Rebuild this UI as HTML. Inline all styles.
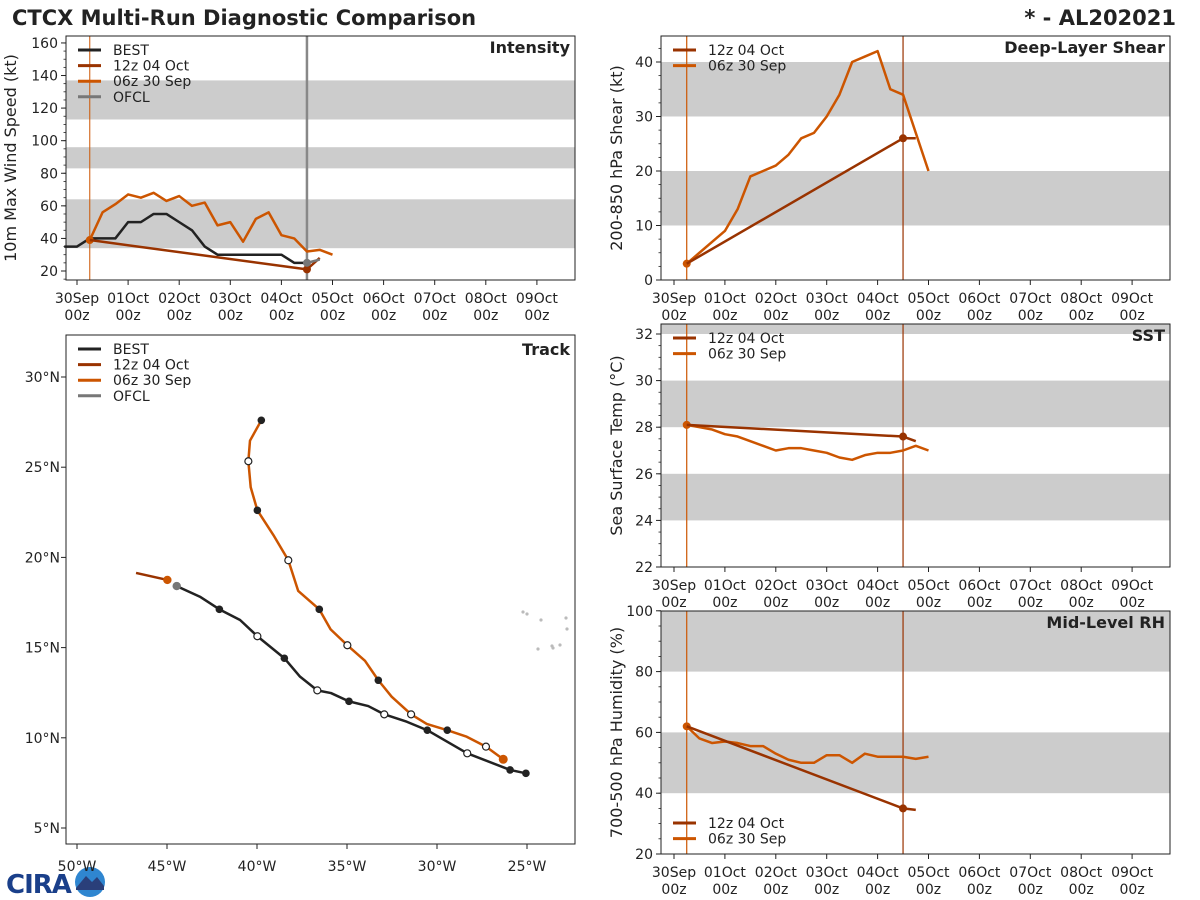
<!DOCTYPE html>
<html><head><meta charset="utf-8">
<style>
html,body{margin:0;padding:0;background:#fff;}
svg{display:block;font-family:"DejaVu Sans","Liberation Sans",sans-serif;}
</style></head>
<body>
<svg id="chart" width="1200" height="900" viewBox="0 0 1200 900">
<text x="12" y="25" font-size="21" font-weight="bold" fill="#222">CTCX Multi-Run Diagnostic Comparison</text>
<text x="1176" y="25" font-size="21" font-weight="bold" fill="#222" text-anchor="end">* - AL202021</text>
<g>
<text x="6" y="893" font-size="26" font-weight="bold" fill="#1a3f8a" letter-spacing="-1">CIRA</text>
<circle cx="90" cy="882" r="15" fill="#2f86d0"/>
<path d="M76 888 L86 876 L92 882 L97 877 L104 886 L104 890 L76 890Z" fill="#2a3f7a"/>
</g>
</svg>
<script>
// ---------------- data ----------------
const dayLabels = ["30Sep","01Oct","02Oct","03Oct","04Oct","05Oct","06Oct","07Oct","08Oct","09Oct"];
const intBestStart = -6;
const intBest = [35,35,40,40,40,50,50,55,55,50,45,35,30,30,30,30,30,30,25,25];
const int06Start = 6;
const int06 = [39,56,61,67,65,68,63,66,60,62,48,50,38,52,56,42,40,32,33,30];
const int12Hours = [6,108,114];
const int12 = [39,21,28];
const ofclHours = [108,114];
const ofcl = [25,27];
const intTicks = [20,40,60,80,100,120,140,160];
const shear06 = [3,5,7,9,13,19,20,21,23,26,27,30,34,40,41,42,35,34,27,20];
const shear12Hours = [6,108,114];
const shear12 = [3,26,26];
const shearTicks = [0,10,20,30,40];
const sst06 = [28.1,28.0,27.9,27.7,27.6,27.4,27.2,27.0,27.1,27.1,27.0,26.9,26.7,26.6,26.8,26.9,26.9,27.0,27.2,27.0];
const sst12Hours = [6,108,114];
const sst12 = [28.1,27.6,27.4];
const sstTicks = [22,24,26,28,30,32];
const rh06 = [62,58,56.5,57,56.5,55.5,55.5,53,51,50,50,52.5,52.5,50,53,52,52,52,51.3,52];
const rh12Hours = [6,108,114];
const rh12 = [62,35,34.5];
const rhTicks = [20,40,60,80,100];
const trackBestLat = [8.03,8.22,9.14,10.42,10.89,11.30,11.76,12.02,12.48,12.63,13.39,14.41,15.63,16.53,17.12,17.82,18.41];
const trackBestLonW = [25.06,25.94,28.32,30.54,31.68,32.93,33.82,34.89,35.89,36.65,37.61,38.48,39.98,40.94,42.09,43.17,44.46];
const trackBestMark = ["f","f","o","f","","o","","f","","o","","f","o","","f","","g"];
const track06Lat = [8.81,9.51,10.06,10.42,10.77,11.30,12.28,13.19,14.27,15.13,16.01,17.12,18.14,19.84,21.24,22.61,23.89,25.33,26.47,27.60];
const track06LonW = [26.32,27.28,28.35,29.43,30.57,31.44,32.52,33.26,34.0,34.98,35.91,36.54,37.71,38.26,39.09,39.98,40.35,40.48,40.39,39.76];
const track06Mark = ["s","o","","f","","o","","f","","o","","f","","o","","f","","o","","f"];
const track12Lat = [18.75,19.14];
const track12LonW = [44.98,46.72];
const lonTicks = [50,45,40,35,30,25];
const latTicks = [5,10,15,20,25,30];

const C_BEST="#222222", C_12="#993300", C_06="#cc5500", C_OFCL="#777777", C_BAND="#cccccc";
const NS="http://www.w3.org/2000/svg";
const svg=document.getElementById("chart");

function mk(tag, attrs, name, parent){
  const el=document.createElementNS(NS,tag);
  for(const k in attrs) el.setAttribute(k,attrs[k]);
  
  
  (parent||svg).appendChild(el);
  return el;
}
function txt(x,y,s,size,name,opts,parent){
  const a=Object.assign({x:x,y:y,"font-size":size,fill:"#222"},opts||{});
  const t=mk("text",a,name,parent);
  t.textContent=s;
  return t;
}

// time panels
function timePanel(cfg){
  const g=mk("g",{},cfg.name);
  const X=h=>cfg.x0+h/24*cfg.dx;
  const Y=v=>cfg.yAt0-(v-cfg.v0)*cfg.dy;
  // bands
  cfg.bands.forEach((b,i)=>{
    const y1=Math.max(Y(b[1]),cfg.top), y2=Math.min(Y(b[0]),cfg.bottom);
    mk("rect",{x:cfg.left,y:y1,width:cfg.right-cfg.left,height:y2-y1,fill:C_BAND},cfg.name+"-band-"+i,g);
  });
  // minor y ticks
  for(let v=cfg.ymin; v<=cfg.ymax+1e-6; v+=cfg.minor){
    const y=Y(v); if(y<cfg.top-0.5||y>cfg.bottom+0.5) continue;
    mk("line",{x1:cfg.left-2.5,x2:cfg.left,y1:y,y2:y,stroke:"#222","stroke-width":0.8},cfg.name+"-minor-tick",g);
  }
  cfg.yticks.forEach(v=>{
    const y=Y(v);
    mk("line",{x1:cfg.left-5,x2:cfg.left,y1:y,y2:y,stroke:"#222","stroke-width":1},cfg.name+"-y-tick",g);
    txt(cfg.left-8,y+5,String(v),14,cfg.name+"-y-tick-label",{"text-anchor":"end"},g);
  });
  dayLabels.forEach((d,i)=>{
    const x=X(i*24);
    mk("line",{x1:x,x2:x,y1:cfg.bottom,y2:cfg.bottom+5,stroke:"#222"},cfg.name+"-x-tick",g);
    txt(x,cfg.bottom+23,d,14,cfg.name+"-x-tick-label",{"text-anchor":"middle"},g);
    txt(x,cfg.bottom+40,"00z",14,cfg.name+"-x-tick-label-hour",{"text-anchor":"middle"},g);
  });
  // vertical init lines
  cfg.vlines.forEach((v,i)=>{
    mk("line",{x1:X(v[0]),x2:X(v[0]),y1:cfg.top,y2:cfg.bottom,stroke:v[1],"stroke-width":v[2]},cfg.name+"-init-line-"+i,g);
  });
  // series
  cfg.series.forEach(s=>{
    const pts=s.vals.map((v,i)=>X(s.hours?s.hours[i]:s.start+6*i)+","+Y(v)).join(" ");
    mk("polyline",{points:pts,fill:"none",stroke:s.color,"stroke-width":2.5,"stroke-linejoin":"round"},s.name,g);
    (s.dots||[]).forEach(i=>{
      mk("circle",{cx:X(s.hours?s.hours[i]:s.start+6*i),cy:Y(s.vals[i]),r:4,fill:s.color},s.name+"-marker",g);
    });
  });
  // frame
  mk("rect",{x:cfg.left,y:cfg.top,width:cfg.right-cfg.left,height:cfg.bottom-cfg.top,fill:"none",stroke:"#222","stroke-width":1},cfg.name+"-frame",g);
  txt(cfg.right-5,cfg.top+17,cfg.title,16,cfg.name+"-title",{"text-anchor":"end","font-weight":"bold"},g);
  const cy=(cfg.top+cfg.bottom)/2;
  txt(0,0,cfg.ylabel,16,cfg.name+"-y-axis-title",{"text-anchor":"middle",transform:"translate("+cfg.ylx+","+cy+") rotate(-90)"},g);
  // legend
  cfg.legend.forEach((l,i)=>{
    const y=cfg.legY+i*15.6;
    mk("line",{x1:cfg.legX,x2:cfg.legX+23,y1:y,y2:y,stroke:l[1],"stroke-width":3},cfg.name+"-legend-swatch",g);
    txt(cfg.legX+35,y+5,l[0],14,cfg.name+"-legend-entry",{},g);
  });
}

timePanel({name:"intensity-panel",left:66,right:575,top:36,bottom:280,x0:77,dx:51.1,yAt0:271,v0:20,dy:1.629,
  ymin:15,ymax:165,minor:5,yticks:intTicks,bands:[[34,64],[83,96],[113,137]],
  vlines:[[6,C_06,1],[108,"#888",2.5]],
  series:[
    {name:"intensity-best-line",color:C_BEST,start:intBestStart,vals:intBest},
    {name:"intensity-06z-30sep-line",color:C_06,start:int06Start,vals:int06,dots:[0]},
    {name:"intensity-12z-04oct-line",color:C_12,hours:int12Hours,vals:int12,dots:[1]},
    {name:"intensity-ofcl-line",color:C_OFCL,hours:ofclHours,vals:ofcl,dots:[0]}],
  title:"Intensity",ylabel:"10m Max Wind Speed (kt)",ylx:16,legX:78,legY:50,
  legend:[["BEST",C_BEST],["12z 04 Oct",C_12],["06z 30 Sep",C_06],["OFCL",C_OFCL]]});

timePanel({name:"shear-panel",left:661,right:1170,top:36,bottom:280,x0:674,dx:50.9,yAt0:280,v0:0,dy:5.45,
  ymin:0,ymax:45,minor:2.5,yticks:shearTicks,bands:[[10,20],[30,40]],
  vlines:[[6,C_06,1.2],[108,C_12,1.2]],
  series:[
    {name:"shear-06z-30sep-line",color:C_06,start:6,vals:shear06,dots:[0]},
    {name:"shear-12z-04oct-line",color:C_12,hours:shear12Hours,vals:shear12,dots:[1]}],
  title:"Deep-Layer Shear",ylabel:"200-850 hPa Shear (kt)",ylx:622,legX:673,legY:50,
  legend:[["12z 04 Oct",C_12],["06z 30 Sep",C_06]]});

timePanel({name:"sst-panel",left:661,right:1170,top:324,bottom:567,x0:674,dx:50.9,yAt0:567,v0:22,dy:23.3,
  ymin:22,ymax:32.4,minor:0.5,yticks:sstTicks,bands:[[24,26],[28,30],[32,33]],
  vlines:[[6,C_06,1.2],[108,C_12,1.2]],
  series:[
    {name:"sst-06z-30sep-line",color:C_06,start:6,vals:sst06,dots:[0]},
    {name:"sst-12z-04oct-line",color:C_12,hours:sst12Hours,vals:sst12,dots:[1]}],
  title:"SST",ylabel:"Sea Surface Temp (°C)",ylx:622,legX:673,legY:338,
  legend:[["12z 04 Oct",C_12],["06z 30 Sep",C_06]]});

timePanel({name:"rh-panel",left:661,right:1170,top:611,bottom:854,x0:674,dx:50.9,yAt0:854,v0:20,dy:3.04,
  ymin:20,ymax:100,minor:5,yticks:rhTicks,bands:[[40,60],[80,100]],
  vlines:[[6,C_06,1.2],[108,C_12,1.2]],
  series:[
    {name:"rh-06z-30sep-line",color:C_06,start:6,vals:rh06,dots:[0]},
    {name:"rh-12z-04oct-line",color:C_12,hours:rh12Hours,vals:rh12,dots:[1]}],
  title:"Mid-Level RH",ylabel:"700-500 hPa Humidity (%)",ylx:622,legX:673,legY:823,
  legend:[["12z 04 Oct",C_12],["06z 30 Sep",C_06]]});

// ---------------- track panel ----------------
(function(){
  const g=mk("g",{},"track-panel");
  const L=66,R=575,T=335,B=844;
  const X=w=>77+(50-w)*18;
  const Y=lat=>377+(30-lat)*18.04;
  // islands
  [[523,612],[527,614],[541,620],[566,618],[567,629],[538,649],[552,646],[553,648],[560,645]].forEach(p=>{
    mk("circle",{cx:p[0],cy:p[1],r:1.6,fill:"#bbb"},"island",g);
  });
  lonTicks.forEach(w=>{
    const x=X(w);
    mk("line",{x1:x,x2:x,y1:B,y2:B+5,stroke:"#222"},"track-x-tick",g);
    txt(x,B+27,w+"°W",14,"track-x-tick-label",{"text-anchor":"middle"},g);
  });
  latTicks.forEach(l=>{
    const y=Y(l);
    mk("line",{x1:L-5,x2:L,y1:y,y2:y,stroke:"#222"},"track-y-tick",g);
    txt(L-6,y+5,l+"°N",14,"track-y-tick-label",{"text-anchor":"end"},g);
  });
  function track(lat,lon,color,name,marks){
    const pts=lat.map((v,i)=>X(lon[i])+","+Y(v)).join(" ");
    mk("polyline",{points:pts,fill:"none",stroke:color,"stroke-width":2.5,"stroke-linejoin":"round"},name,g);
    (marks||[]).forEach((m,i)=>{
      if(!m) return;
      const a={cx:X(lon[i]),cy:Y(lat[i]),r:3.8};
      if(m==="f"){a.fill="#222";}
      else if(m==="o"){a.fill="#fff";a.stroke="#222";a["stroke-width"]=1.2;a.r=3.5;}
      else if(m==="g"){a.fill=C_OFCL;a.r=4.2;}
      else if(m==="s"){a.fill=color;a.r=4.5;}
      mk("circle",a,name+"-marker",g);
    });
  }
  track(track12Lat,track12LonW,C_12,"track-12z-04oct-line",[]);
  mk("circle",{cx:X(track12LonW[0]),cy:Y(track12Lat[0]),r:4.2,fill:C_06},"track-12z-04oct-marker",g);
  track(track06Lat,track06LonW,C_06,"track-06z-30sep-line",track06Mark);
  track(trackBestLat,trackBestLonW,C_BEST,"track-best-line",trackBestMark);
  mk("rect",{x:L,y:T,width:R-L,height:B-T,fill:"none",stroke:"#222"},"track-frame",g);
  txt(R-5,T+20,"Track",16,"track-panel-title",{"text-anchor":"end","font-weight":"bold"},g);
  [["BEST",C_BEST],["12z 04 Oct",C_12],["06z 30 Sep",C_06],["OFCL",C_OFCL]].forEach((l,i)=>{
    const y=349+i*15.6;
    mk("line",{x1:78,x2:101,y1:y,y2:y,stroke:l[1],"stroke-width":3},"track-legend-swatch",g);
    txt(113,y+5,l[0],14,"track-legend-entry",{},g);
  });
})();
</script>
</body></html>
